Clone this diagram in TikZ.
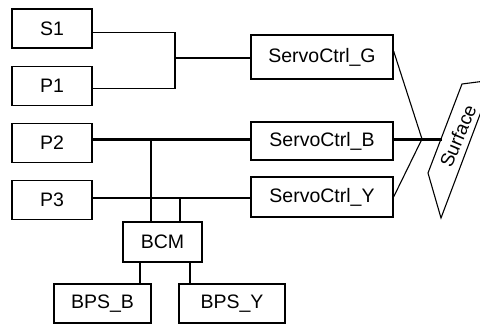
\documentclass[tikz,border=0pt]{standalone}
\usepackage{fontspec}
\setmainfont{Liberation Sans}
\usetikzlibrary{positioning}

\begin{document}
\begin{tikzpicture}[x=1pt, y=-1pt, node distance=17pt,
  box/.style={draw, rectangle, line width=1.2pt, inner sep=0pt, font=\fontsize{19.5}{21}\selectfont},
  src/.style={box, minimum width=80pt, minimum height=39pt},
  servo/.style={box, minimum width=142pt},
  link/.style={line width=1.1pt},
  bus/.style={line width=2.2pt}]
  \useasboundingbox (0,0) rectangle (480,324);
  % sources
  \node[src] (s1) at (52,28.5) {S1};
  \node[src, below=of s1] (p1) {P1};
  \node[src, below=of p1] (p2) {P2};
  \node[src, below=of p2] (p3) {P3};
  % servo controllers
  \node[servo, minimum height=44pt] (g) at (322,57) {ServoCtrl\_G};
  \node[servo, minimum height=38pt] (b) at (322,141) {ServoCtrl\_B};
  \node[servo, minimum height=40pt] (y) at (322,197) {ServoCtrl\_Y};
  % monitor and power
  \node[box, minimum width=79pt, minimum height=40pt] (bcm) at (162.5,242) {BCM};
  \node[box, minimum width=97pt, minimum height=39pt] (bpsb) at (102.5,303.5) {BPS\_B};
  \node[box, minimum width=106pt, minimum height=39pt] (bpsy) at (232,303.5) {BPS\_Y};
  % surface
  \draw[link] (493,80) -- (462,84) -- (428,173) -- (441,218) -- cycle;
  \node[rotate=67, inner sep=0pt, font=\fontsize{19}{21}\selectfont] (surf) at (458,136) {Surface};
  \coordinate (sf) at (442,139);

  \coordinate (jg) at (175,58);
  \draw[link] ([yshift=-4pt]s1.east) -| (jg) |- ([yshift=-2.5pt]p1.east);
  \draw[link] (jg) -- (jg -| g.west);

  \coordinate (busb) at ([yshift=3.5pt]p2.east);
  \coordinate (busy) at ([yshift=2pt]p3.east);
  \draw[bus] (busb) -- (busb -| b.west);
  \draw[bus] (busy) -- (busy -| y.west);
  \draw[bus] (busb -| b.east) -- (busb -| sf);

  \coordinate (dropb) at (151,0);
  \coordinate (dropy) at (180,0);
  \draw[link] (dropb |- busb) -- (dropb |- bcm.north);
  \draw[link] (dropy |- busy) -- (dropy |- bcm.north);

  \coordinate (fb) at (140,0);
  \coordinate (fy) at (190,0);
  \draw[link] (fb |- bcm.south) -- (fb |- bpsb.north);
  \draw[link] (fy |- bcm.south) -- (fy |- bpsy.north);

  \coordinate (js) at (422,139);
  \draw[link] ([yshift=6pt]g.east) -- (js) -- (y.east);
\end{tikzpicture}
\end{document}
